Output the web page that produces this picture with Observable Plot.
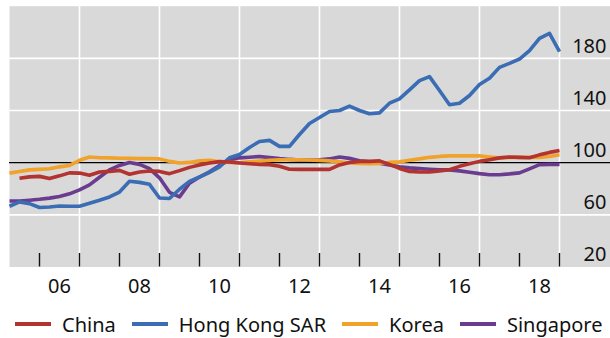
<!DOCTYPE html>
<html>
<head>
<meta charset="utf-8">
<script src="https://cdn.jsdelivr.net/npm/d3@7"></script>
<script src="https://cdn.jsdelivr.net/npm/@observablehq/plot@0.6"></script>
<style>
  html, body { margin: 0; padding: 0; background: #fff; }
  #wrap { position: relative; width: 610px; height: 338px; font-family: "Noto Sans", sans-serif; }
  #legend { position: absolute; left: 0; top: 310px; height: 28px; display: flex; align-items: center; font-size: 20px; color: #111; }
  .item { display: flex; align-items: center; }
  .sw { width: 36px; height: 4px; margin-right: 11px; }
</style>
</head>
<body>
<div id="wrap"><div id="chart"></div><div id="legend"></div></div>
<script>
// Quarterly index values, 2005 Q2 – 2018 Q4 (56 quarters)
const startYear = 2005.25;
const seriesNames = ["China", "Hong Kong SAR", "Korea", "Singapore"];
const seriesColors = ["#b2332f", "#3b6db4", "#f0a22a", "#6a3c8f"];

const china = [null, 88.0, 89.1, 89.5, 87.8, 89.9, 92.2, 92.0, 90.3, 92.8, 93.3, 94.1, 91.1, 92.8, 93.6, 93.3,
  91.6, 93.9, 96.4, 98.3, 99.8, 100.8, 100.5, 99.8, 99.2, 98.7, 98.5, 97.2, 95.0, 94.9, 94.9, 94.9,
  94.9, 98.3, 100.2, 101.0, 101.0, 101.4, 98.7, 95.6, 93.3, 92.8, 92.8, 93.7, 94.6, 97.2,
  99.1, 101.0, 102.3, 103.7, 104.3, 104.1, 103.8, 106.0, 107.9, 109.4];

const hongKong = [66.6, 69.9, 68.6, 65.6, 66.0, 66.8, 66.6, 66.6, 68.9, 71.2, 73.7, 77.5, 85.7, 84.9, 83.4, 72.9,
  72.5, 79.6, 85.7, 89.0, 92.6, 96.8, 103.8, 106.3, 111.7, 116.3, 117.1, 112.5, 112.5, 121.6, 130.1, 134.6,
  139.2, 140.0, 143.4, 140.0, 137.5, 138.2, 145.6, 149.0, 155.8, 162.9, 166.0, 155.3, 144.4, 145.6,
  151.5, 159.9, 164.7, 173.1, 176.2, 179.5, 185.9, 195.3, 199.1, 185.1];

const korea = [92.0, 93.3, 94.5, 94.9, 95.3, 96.8, 97.9, 101.8, 104.3, 103.8, 103.7, 103.4, 103.3, 103.1, 103.1, 102.9,
  101.0, 99.8, 100.2, 101.4, 101.8, 100.6, 100.2, 100.0, 100.6, 101.2, 101.8, 102.3, 102.3, 102.3, 102.1, 101.8,
  101.4, 100.6, 99.8, 99.5, 99.2, 99.5, 100.2, 100.6, 101.8, 102.9, 104.1, 104.8, 105.2, 105.2,
  105.2, 105.2, 104.4, 103.7, 104.1, 104.1, 104.1, 104.1, 104.8, 106.1];

const singapore = [70.6, 70.6, 71.2, 71.9, 72.8, 74.1, 76.1, 79.2, 83.0, 88.8, 94.5, 97.9, 100.2, 98.7, 95.4, 88.4,
  77.3, 73.8, 84.2, 89.0, 93.0, 97.9, 102.1, 103.7, 104.2, 104.8, 103.9, 103.1, 102.5, 102.1, 102.1, 102.3,
  102.9, 104.4, 103.3, 101.5, 100.6, 99.6, 98.3, 96.8, 96.0, 95.5, 95.0, 94.6, 94.5, 93.7,
  92.6, 91.6, 90.8, 90.8, 91.4, 92.2, 95.3, 98.5, 98.7, 98.7];

const xLabelYears = [2006, 2008, 2010, 2012, 2014, 2016, 2018];
const xLabels = ["06", "08", "10", "12", "14", "16", "18"];
const yearTicks = [2006, 2007, 2008, 2009, 2010, 2011, 2012, 2013, 2014, 2015, 2016, 2017, 2018, 2019];
const gridYears = [2007, 2009, 2011, 2013, 2015, 2017, 2019];
const yTicks = [20, 60, 100, 140, 180];
const yGrid = [60, 140, 180];
const refValue = 100;

const allSeries = [china, hongKong, korea, singapore];
const rows = [];
allSeries.forEach((vals, s) => {
  vals.forEach((v, i) => {
    rows.push({series: seriesNames[s], t: startYear + 0.25 * i, v});
  });
});
const drawOrder = ["Singapore", "Korea", "Hong Kong SAR", "China"];
const ordered = drawOrder.flatMap(n => rows.filter(r => r.series === n));

const chart = Plot.plot({
  width: 610,
  height: 300,
  marginLeft: 9,
  marginRight: 0,
  marginTop: 5.7,
  marginBottom: 33.5,
  style: {fontFamily: "Noto Sans, sans-serif", fontSize: "20px", color: "#111", background: "transparent"},
  x: {domain: [2005.25, 2020.275], axis: null},
  y: {domain: [20, 220], axis: null},
  color: {domain: seriesNames, range: seriesColors},
  marks: [
    Plot.frame({fill: "#d9d9d9", stroke: null}),
    Plot.ruleX(gridYears, {x: d => d, stroke: "#fff", strokeWidth: 1.6}),
    Plot.ruleY(yGrid, {y: d => d, stroke: "#fff", strokeWidth: 1.6}),
    Plot.ruleY([refValue], {y: d => d, stroke: "#000", strokeWidth: 1.2}),
    Plot.tickX(yearTicks, {x: d => d, insetTop: 247.3, stroke: "#111", strokeWidth: 1.4}),
    Plot.line(ordered, {x: "t", y: "v", z: "series", stroke: "series", strokeWidth: 3.6, strokeLinejoin: "round", strokeLinecap: "butt"}),
    Plot.text(yTicks, {y: d => d, text: d => String(d), frameAnchor: "right", textAnchor: "end", dx: -4, dy: -12, fill: "#111", fontSize: 20}),
    Plot.text(xLabelYears, {x: d => d + 0.5, text: (d, i) => xLabels[i], frameAnchor: "bottom", lineAnchor: "middle", dy: 20, fill: "#111", fontSize: 20})
  ]
});
document.getElementById("chart").appendChild(chart);

const legend = document.getElementById("legend");
const gaps = [15, 16, 16, 16];
seriesNames.forEach((n, i) => {
  const it = document.createElement("div");
  it.className = "item";
  it.style.marginLeft = gaps[i] + "px";
  const sw = document.createElement("span");
  sw.className = "sw";
  sw.style.background = seriesColors[i];
  const tx = document.createElement("span");
  tx.textContent = n;
  it.appendChild(sw);
  it.appendChild(tx);
  legend.appendChild(it);
});
</script>
</body>
</html>
